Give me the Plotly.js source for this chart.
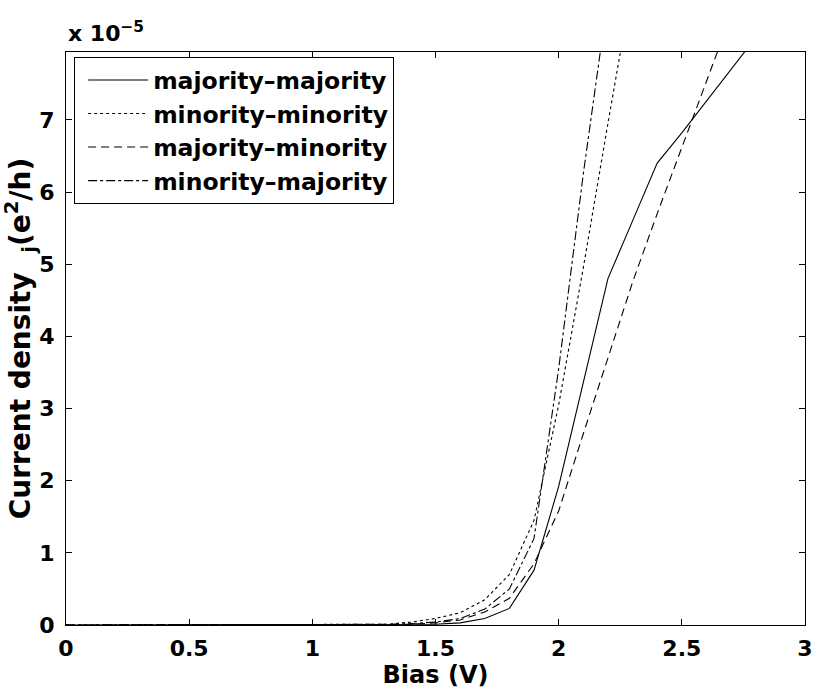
<!DOCTYPE html>
<html>
<head>
<meta charset="utf-8">
<script src="https://cdn.plot.ly/plotly-3.0.1.min.js"></script>
<style>html,body{margin:0;padding:0;background:#fff;}#chart{width:814px;height:694px;}</style>
</head>
<body>
<div id="chart"></div>
<script>
// Bias (V)
const bias = [0.0,0.1,0.2,0.3,0.4,0.5,0.6,0.7,0.8,0.9,1.0,1.1,1.2,1.3,1.4,1.5,1.6,1.7,1.8,1.9,2.0,2.1,2.2,2.3,2.4,2.5,2.6,2.7,2.8];
// Current density, units of 1e-5 e^2/h
const majMaj = [0,0,0,0,0,0,0,0,0,0,0,0,0,0,0.005,0.01,0.03,0.09,0.23,0.76,1.92,3.35,4.8,5.6,6.4,6.82,7.26,7.7,8.14];
const minMin = [0,0,0,0,0,0,0,0,0,0,0,0,0,0.01,0.04,0.09,0.17,0.35,0.7,1.45,3.05,4.95,6.95,8.9];
const majMin = [0,0,0,0,0,0,0,0,0,0,0,0,0,0,0.01,0.03,0.07,0.18,0.37,0.85,1.58,2.65,3.7,4.75,5.7,6.63,7.55,8.45];
const minMaj = [0,0,0,0,0,0,0,0,0,0,0,0,0,0.005,0.02,0.04,0.09,0.22,0.5,1.2,3.55,6.25,8.7];
const names = ["majority\u2013majority","minority\u2013minority","majority\u2013minority","minority\u2013majority"];
const dashes = ["solid","dot","8px,5px","dashdot"];
const series = [majMaj, minMin, majMin, minMaj];
const xTicks = [0,0.5,1,1.5,2,2.5,3];
const xTickText = ["0","0.5","1","1.5","2","2.5","3"];
const yTicks = [0,1,2,3,4,5,6,7];

const FONT = "DejaVu Sans, Arial, Helvetica, sans-serif";
const traces = series.map((v,i)=>({
  x: bias.slice(0, v.length), y: v, type: "scatter", mode: "lines",
  name: names[i],
  line: {color: "#000", width: 1.1, dash: dashes[i]}
}));

const axisCommon = {
  showline: true, linecolor: "#000", linewidth: 1, mirror: "ticks",
  ticks: "inside", ticklen: 6, tickcolor: "#000", tickwidth: 1,
  showgrid: false, zeroline: false,
  tickfont: {family: FONT, size: 22, color: "#000", weight: "bold"}
};

const layout = {
  width: 814, height: 694,
  margin: {l: 66, r: 9, t: 52, b: 69},
  paper_bgcolor: "#fff", plot_bgcolor: "#fff",
  showlegend: true,
  legend: {x: 0.011, y: 0.991, xanchor: "left", yanchor: "top",
    bgcolor: "#fff", bordercolor: "#000", borderwidth: 1,
    font: {family: FONT, size: 23.5, color: "#000", weight: "bold"}, itemwidth: 60, tracegroupgap: 0,
    indentation: 8},
  xaxis: Object.assign({}, axisCommon, {
    range: [0, 3], tickvals: xTicks, ticktext: xTickText, ticklabelstandoff: 4,
    title: {text: "Bias (V)", font: {family: FONT, size: 24, color: "#000", weight: "bold"}, standoff: 5}
  }),
  yaxis: Object.assign({}, axisCommon, {
    range: [0, 7.94], tickvals: yTicks, ticklabelstandoff: 6,
    title: {text: "Current density  <sub>j</sub>(e<sup>2</sup>/h)", font: {family: FONT, size: 28, color: "#000", weight: "bold"}, standoff: 0}
  }),
  annotations: [{
    xref: "paper", yref: "paper", x: 0, y: 1, xanchor: "left", yanchor: "bottom", yshift: 4,
    text: "x 10<sup>\u22125</sup>", showarrow: false,
    font: {family: FONT, size: 22, color: "#000", weight: "bold"}
  }]
};

Plotly.newPlot("chart", traces, layout, {displayModeBar: false, staticPlot: true});
</script>
</body>
</html>
